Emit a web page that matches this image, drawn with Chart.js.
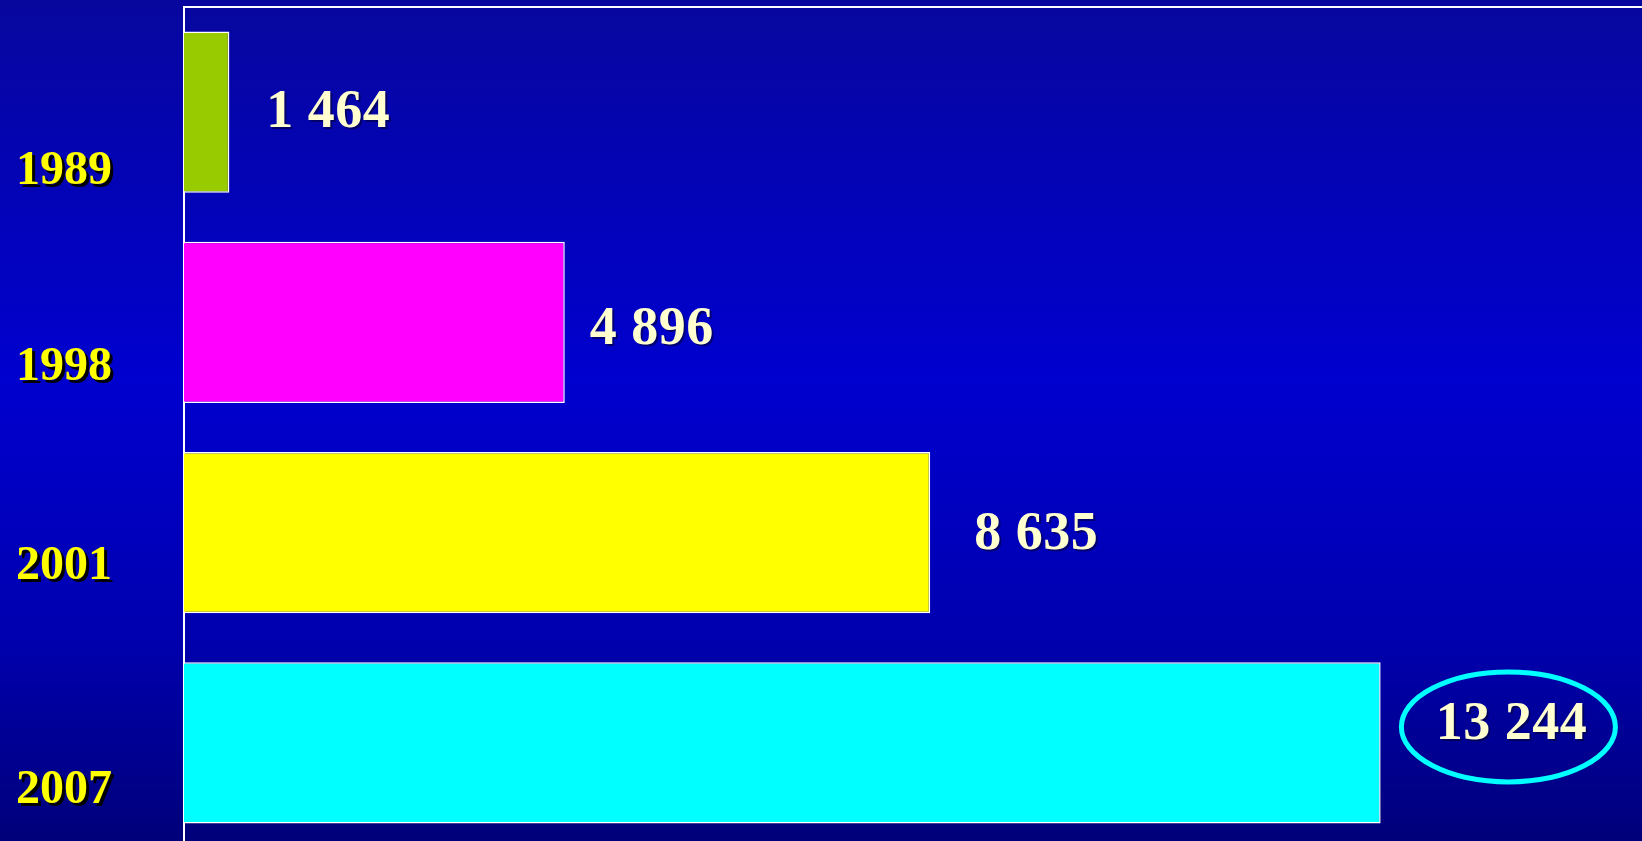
<!DOCTYPE html>
<html>
<head>
<meta charset="utf-8">
<script src="https://cdn.jsdelivr.net/npm/chart.js@4.4.1/dist/chart.umd.min.js"></script>
<style>
html,body{margin:0;padding:0;overflow:hidden;width:1642px;height:841px;background:#0000a8;}
#wrap{position:absolute;left:0;top:0;width:1650px;height:848px;}
</style>
</head>
<body>
<div id="wrap"><canvas id="c" width="1650" height="848"></canvas></div>
<script>
// ---- data ----
const years = ['1989', '1998', '2001', '2007'];
const values = [1464, 4896, 8635, 13244];
const valueLabels = ['1 464', '4 896', '8 635', '13 244'];
const axisMin = 1000;
const axisMax = 16000;

// ---- styles ----
const barColors = ['#99cc00', '#ff00ff', '#ffff00', '#00ffff'];
const yearLabelShift = [59, 45, 34, 48];
const valueLabelGap = [37, 25, 44, 55];
const valueLabelShift = [1, 8, 2, -18];
const highlightIndex = 3;

const bgPlugin = {
  id: 'bg',
  beforeDraw(chart) {
    const ctx = chart.ctx;
    const g = ctx.createLinearGradient(0, 0, 0, 841);
    g.addColorStop(0, '#07079e');
    g.addColorStop(0.45, '#0000cf');
    g.addColorStop(0.75, '#0000b0');
    g.addColorStop(1, '#00007a');
    ctx.save();
    ctx.fillStyle = g;
    ctx.fillRect(0, 0, chart.width, chart.height);
    ctx.restore();
  }
};

const labelPlugin = {
  id: 'labels',
  afterDatasetsDraw(chart) {
    const ctx = chart.ctx;
    const meta = chart.getDatasetMeta(0);
    const ys = chart.scales.y;
    ctx.save();
    ctx.font = 'bold 48px "Liberation Serif", "Times New Roman", serif';
    ctx.textBaseline = 'middle';
    // year labels
    years.forEach((yr, i) => {
      const y = ys.getPixelForValue(i) + yearLabelShift[i];
      ctx.textAlign = 'left';
      ctx.fillStyle = '#000000';
      ctx.fillText(yr, 19, y + 3);
      ctx.fillStyle = '#ffff00';
      ctx.fillText(yr, 16, y);
    });
    // value labels
    ctx.font = 'bold 54px "Liberation Serif", "Times New Roman", serif';
    ctx.letterSpacing = '0.5px';
    meta.data.forEach((bar, i) => {
      const x = bar.x + valueLabelGap[i];
      const y = bar.y + valueLabelShift[i];
      ctx.textAlign = 'left';
      const w = ctx.measureText(valueLabels[i]).width;
      ctx.fillStyle = 'rgba(0,0,60,0.6)';
      ctx.fillText(valueLabels[i], x + 2, y + 2);
      ctx.fillStyle = '#ffffd0';
      ctx.fillText(valueLabels[i], x, y);
      if (i === highlightIndex) {
        ctx.beginPath();
        ctx.ellipse(x + w / 2 - 3, y + 2, 107, 55, 0, 0, Math.PI * 2);
        ctx.lineWidth = 5;
        ctx.strokeStyle = '#00ffff';
        ctx.stroke();
      }
    });
    ctx.restore();
  }
};

new Chart(document.getElementById('c'), {
  type: 'bar',
  data: {
    labels: years,
    datasets: [{
      data: values,
      backgroundColor: barColors,
      borderColor: '#ffffff',
      borderWidth: 1.5,
      borderSkipped: false,
      barPercentage: 0.768,
      categoryPercentage: 1
    }]
  },
  options: {
    indexAxis: 'y',
    responsive: false,
    devicePixelRatio: 1,
    animation: false,
    layout: { padding: 0 },
    plugins: { legend: { display: false }, tooltip: { enabled: false } },
    scales: {
      x: {
        position: 'top',
        min: axisMin,
        max: axisMax,
        ticks: { display: false },
        grid: { display: false },
        border: { display: true, color: '#ffffff', width: 2 },
        afterFit(s) { s.height = 7; }
      },
      y: {
        ticks: { display: false },
        grid: { display: false },
        border: { display: true, color: '#ffffff', width: 2 },
        afterFit(s) { s.width = 184; }
      }
    }
  },
  plugins: [bgPlugin, labelPlugin]
});
</script>
</body>
</html>
